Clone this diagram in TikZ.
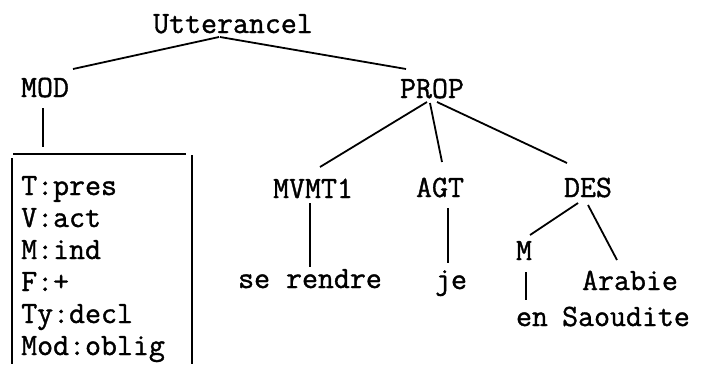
\documentclass[tikz,border=0pt]{standalone}
\usepackage{fontspec}
\newfontfamily\typew{Latin Modern Mono}[BoldFont={Latin Modern Mono}, BoldFeatures={FakeBold=1.2}]
\usetikzlibrary{calc, positioning}

\tikzset{
    lbl/.style={anchor=base, inner sep=0pt, font=\fontsize{31}{32}\selectfont\typew\bfseries},
    feat/.style={lbl, anchor=base west},
    branch/.style={line width=1.8pt}
}

\begin{document}
\begin{tikzpicture}[x=1pt, y=-1pt]
    \useasboundingbox (0,0) rectangle (714,364);

    \path (233, 33) node[lbl] (utt) {Utterancel};
    \path (45, 97) node[lbl] (mod) {MOD};
    \path (432, 98) node[lbl] (prop) {PROP};
    \path (313, 198) node[lbl] (mvmt) {MVMT1};
    \path (440, 197) node[lbl] (agt) {AGT};
    \path (588, 197) node[lbl] (des) {DES};
    \path (310, 288) node[lbl] (rendre) {se rendre};
    \path (451, 289) node[lbl] (je) {je};
    \path (524, 260) node[lbl] (m) {M};
    \path (532, 326) node[lbl] (en) {en};
    \path (630, 290) node[lbl] (arabie) {Arabie};
    \path (626, 326) node[lbl] (saoudite) {Saoudite};

    % feature list under MOD
    \foreach \txt [count=\i from 0] in {T:pres, V:act, M:ind, F:+, Ty:decl, Mod:oblig}
        \path (21, 195+32*\i) node[feat] (f\i) {\txt};
    \coordinate (boxtop) at (43, 154);
    \draw[branch] (13, 154) -- (186, 154);
    \draw[branch] (12, 158) -- (12, 364);
    \draw[branch] (192, 155) -- (192, 364);

    % tree branches
    \draw[branch] ($(utt.base)+(-14,4)$) -- ($(mod.base)+(28,-28)$);
    \draw[branch] ($(utt.base)+(-13,4)$) -- ($(prop.base)+(-26,-29)$);
    \draw[branch] ($(mod.base)+(-2,11)$) -- ($(boxtop)+(0,-7)$);
    \draw[branch] ($(prop.base)+(-5,4)$) -- ($(mvmt.base)+(7,-31)$);
    \draw[branch] ($(prop.base)+(-2,5)$) -- ($(agt.base)+(2,-35)$);
    \draw[branch] ($(prop.base)+(5,4)$) -- ($(des.base)+(-21,-34)$);
    \draw[branch] ($(mvmt.base)+(-3,5)$) -- ($(rendre.base)+(0,-21)$);
    \draw[branch] ($(agt.base)+(8,11)$) -- ($(je.base)+(-3,-26)$);
    \draw[branch] ($(des.base)+(-10,6)$) -- ($(m.base)+(6,-25)$);
    \draw[branch] ($(des.base)+(0,8)$) -- ($(arabie.base)+(-13,-30)$);
    \draw[branch] ($(m.base)+(2,12)$) -- ($(en.base)+(-6,-26)$);
\end{tikzpicture}
\end{document}
